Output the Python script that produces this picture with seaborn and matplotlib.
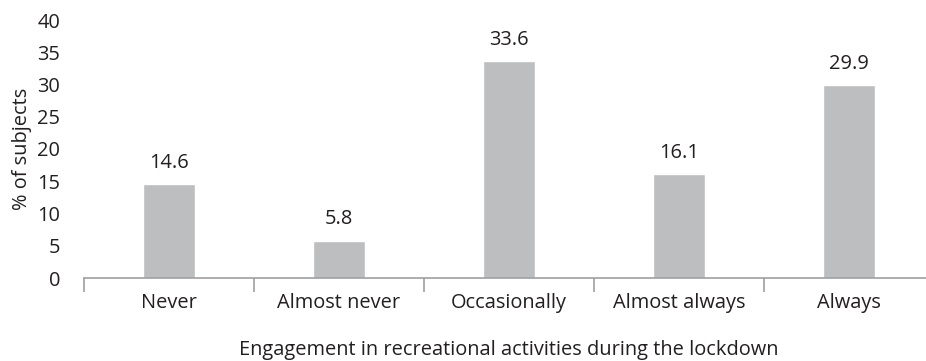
import matplotlib
matplotlib.use("Agg")
import matplotlib.pyplot as plt
import seaborn as sns
import pandas as pd
import numpy as np

categories = ["Never", "Almost never", "Occasionally", "Almost always", "Always"]
percent = [14.6, 5.8, 33.6, 16.1, 29.9]
y_ticks = [0, 5, 10, 15, 20, 25, 30, 35, 40]

sns.set_theme(style="white")
plt.rcParams["font.family"] = ["Open Sans", "DejaVu Sans"]

FS = 14.4
TXT = "#231f20"

df = pd.DataFrame({"category": categories, "percent": percent})

fig = plt.figure(figsize=(9.26, 3.61), dpi=100)
W, H = 926, 361
ax = fig.add_axes([84 / W, (H - 278) / H, 850 / W, 258 / H])

sns.barplot(data=df, x="category", y="percent", color="#bcbec0",
            width=0.31, saturation=1, ax=ax)

ax.set_xlim(-0.5, len(categories) - 0.5)
ax.set_ylim(0, 40)
ax.set_yticks(y_ticks)
ax.set_yticklabels([str(t) for t in y_ticks], fontsize=FS, color=TXT)
ax.tick_params(axis="y", left=False, length=0, pad=17)

# category labels without ticks; tick marks sit on the category boundaries
ax.tick_params(axis="x", which="major", bottom=False, length=0, pad=11,
               labelsize=FS, labelcolor=TXT)
ax.set_xticks(np.arange(-0.5, len(categories) + 0.5, 1.0), minor=True)
ax.tick_params(axis="x", which="minor", bottom=True, length=10, width=1.2,
               color="#9d9fa2", direction="out")

for s in ["top", "right", "left"]:
    ax.spines[s].set_visible(False)
ax.spines["bottom"].set_color("#9d9fa2")
ax.spines["bottom"].set_linewidth(1.2)

for i, v in enumerate(percent):
    ax.annotate(f"{v}", (i, v), xytext=(0, 8), textcoords="offset points",
                ha="center", va="bottom", fontsize=FS, color=TXT)

ax.set_xlabel("Engagement in recreational activities during the lockdown",
              fontsize=FS, color=TXT, labelpad=19)
ax.set_ylabel("% of subjects", fontsize=FS, color=TXT, labelpad=4)
ax.set_facecolor("white")

fig.savefig("out.png", dpi=100, facecolor="white")
